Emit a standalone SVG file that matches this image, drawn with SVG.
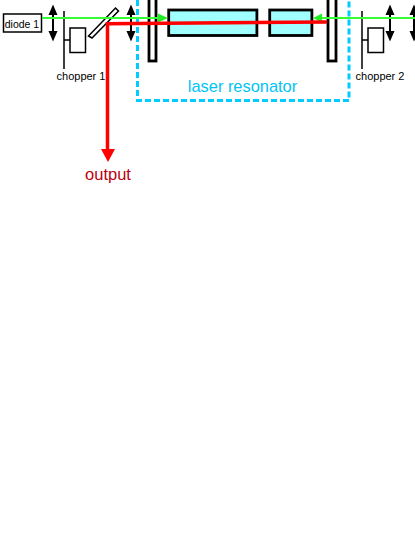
<svg xmlns="http://www.w3.org/2000/svg" width="415" height="537" viewBox="0 0 415 537">
<style>
text{font-family:"Liberation Sans",Arial,sans-serif}
.lbl{font-size:11px;fill:#000}
.thin{fill:none;stroke:#000;stroke-width:1.500}
.box{fill:#fff;stroke:#000;stroke-width:1.500}
.cr{fill:#a0ffff;stroke:#000;stroke-width:2.800}
.m{fill:#fff;stroke:#000;stroke-width:2.800}
</style>
<defs>
<path id="lens" d="M0 -18.500L-4.500 -8H-1V8H-4.500L0 18.500L4.500 8H1V-8H4.500Z" fill="#000"/>
</defs>
<rect width="415" height="537" fill="#fff"/>
<g id="resonator"><path d="M137.500 0V100.500H349V0" fill="none" stroke="#00ccff" stroke-width="3" stroke-dasharray="6 3"/><text x="242.500" y="92" text-anchor="middle" font-size="16.400" fill="#00c4f4">laser resonator</text></g>
<g id="crystal1"><rect x="168.700" y="10" width="88.200" height="25.500" class="cr"/></g>
<g id="crystal2"><rect x="269.700" y="10" width="42.200" height="25.500" class="cr"/></g>
<g id="mirror1"><rect x="149" y="-3" width="7" height="64" class="m"/></g>
<g id="mirror2"><rect x="328" y="-3" width="8" height="64" class="m"/></g>
<g id="diode1"><rect x="3.500" y="14" width="38" height="18" class="box"/><text x="22" y="27.500" text-anchor="middle" font-size="10.500" fill="#000">diode 1</text></g>
<g id="lens1"><use href="#lens" x="53" y="23"/></g>
<g id="lens2"><use href="#lens" x="131" y="23"/></g>
<g id="lens3"><use href="#lens" x="390" y="23"/></g>
<g id="lens4"><use href="#lens" x="414" y="23"/></g>
<g id="chopper1"><path d="M64 11V69M64 40H70" class="thin"/><rect x="70" y="28" width="15.500" height="24.500" class="box"/><text x="81" y="80" text-anchor="middle" class="lbl">chopper 1</text></g>
<g id="chopper2"><path d="M362 11V69M362 40H368" class="thin"/><rect x="368" y="28" width="15.500" height="24.500" class="box"/><text x="380" y="80" text-anchor="middle" class="lbl">chopper 2</text></g>
<g id="splitter"><path d="M88.500 36L115.500 8L118.500 11L92 38Z" class="box"/></g>
<g id="connectors">
<path d="M42 18H160" fill="none" stroke="#33ff33" stroke-width="2"/><path d="M168 18L158 13.500V22.500Z" fill="#22ee22"/>
<path d="M415 18H321" fill="none" stroke="#33ff33" stroke-width="2"/><path d="M313 18L322 13.500V22.500Z" fill="#22ee22"/>
<path d="M327 22L107.500 23.700V150" fill="none" stroke="#ff0000" stroke-width="3.500"/><path d="M108 162L101 149H115Z" fill="#ff0000"/>
</g>
<text id="output" x="108" y="179.500" text-anchor="middle" font-size="16.500" fill="#bb0011">output</text>
</svg>
